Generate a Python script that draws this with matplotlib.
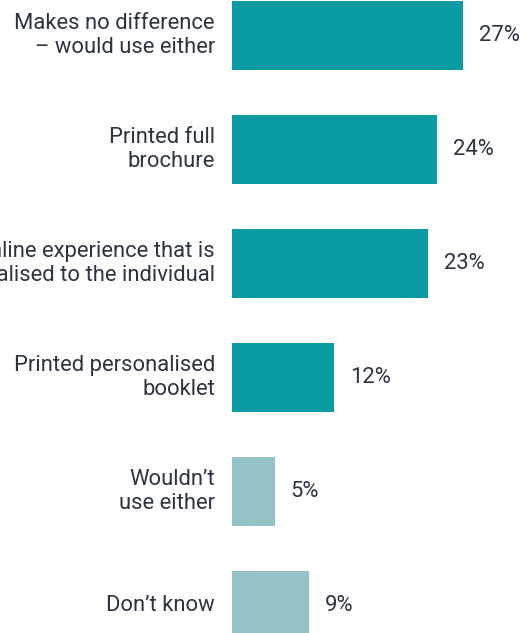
import matplotlib
matplotlib.use("Agg")
import matplotlib.pyplot as plt

plt.rcParams['font.family'] = ['Roboto', 'DejaVu Sans']

categories = [
    "Makes no difference\n\u2013 would use either",
    "Printed full\nbrochure",
    "Online experience that is\npersonalised to the individual",
    "Printed personalised\nbooklet",
    "Wouldn\u2019t\nuse either",
    "Don\u2019t know",
]
values = [27, 24, 23, 12, 5, 9]
value_labels = ["27%", "24%", "23%", "12%", "5%", "9%"]
bar_colors = ["#0a9aa2", "#0a9aa2", "#0a9aa2", "#0a9aa2", "#94c3c7", "#94c3c7"]

W, H = 529, 633
fig = plt.figure(figsize=(W / 100, H / 100), dpi=100)
ax = fig.add_axes([232 / W, 0, 1 - 232 / W, 1])

pos = list(range(len(categories)))
ax.barh(pos, values, height=0.605, color=bar_colors)
ax.set_xlim(0, (W - 232) / 8.54)
ax.set_ylim(5.241, -0.311)

text_color = "#2d3441"
fs = 15.8
for p, v, lab in zip(pos, values, value_labels):
    ax.annotate(lab, (v, p), xytext=(16, 0), textcoords="offset pixels",
                ha="left", va="center", fontsize=fs, color=text_color)
for p, cat in zip(pos, categories):
    ax.annotate(cat, (0, p), xytext=(-17, 0), textcoords="offset pixels",
                ha="right", va="center", fontsize=fs, color=text_color,
                linespacing=1.2, annotation_clip=False)

ax.axis("off")
fig.savefig("out.png", dpi=100)
